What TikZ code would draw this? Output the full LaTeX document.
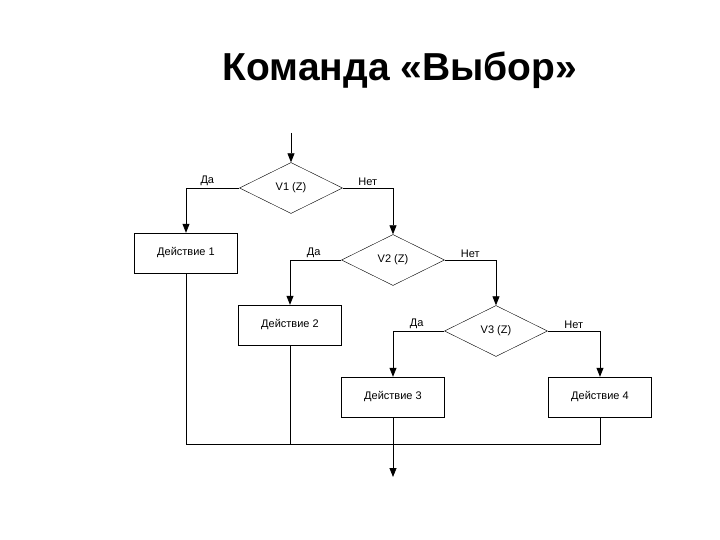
\documentclass[tikz,border=0pt]{standalone}
\usepackage{fontspec}
\setmainfont{Liberation Sans}
\usetikzlibrary{shapes.geometric,arrows.meta}

\begin{document}
\begin{tikzpicture}[x=1pt, y=-1pt,
    decision/.style={draw, diamond, aspect=2, inner sep=0pt, minimum width=103pt, minimum height=51pt, font=\fontsize{11}{13}\selectfont},
    action/.style={draw, rectangle, minimum width=103pt, minimum height=40pt, font=\fontsize{11}{13}\selectfont},
    answer/.style={above, inner sep=1.5pt, font=\fontsize{11}{13}\selectfont},
    flow/.style={-{Triangle[length=9pt,width=7pt]}, line width=0.8pt},
    link/.style={line width=0.8pt}]
    \useasboundingbox (0,0) rectangle (720,540);

    % Title
    \node[font=\fontsize{39}{44}\selectfont\bfseries] (title) at (400,70) {Команда «Выбор»};

    % Decisions and actions
    \node[decision] (v1) at (291,188) {V1 (Z)};
    \node[action] (act1) at (186,253) {Действие 1};
    \node[decision] (v2) at (393,260) {V2 (Z)};
    \node[action] (act2) at (290,325) {Действие 2};
    \node[decision] (v3) at (496,331) {V3 (Z)};
    \node[action] (act3) at (393,397) {Действие 3};
    \node[action] (act4) at (600,397) {Действие 4};

    \coordinate (in) at (291,133);
    \coordinate (join) at (393,444);
    \coordinate (out) at (393,477);

    % Branches
    \draw[flow] (in) -- (v1.north);
    \draw[flow] (v1.west) -| node[answer, pos=0.3] {Да} (act1.north);
    \draw[flow] (v1.east) -| node[answer, pos=0.25] {Нет} (v2.north);
    \draw[flow] (v2.west) -| node[answer, pos=0.27] {Да} (act2.north);
    \draw[flow] (v2.east) -| node[answer, pos=0.25] {Нет} (v3.north);
    \draw[flow] (v3.west) -| node[answer, pos=0.27] {Да} (act3.north);
    \draw[flow] (v3.east) -| node[answer, pos=0.25] {Нет} (act4.north);

    % Merge below the actions
    \draw[link] (act1.south) |- (join);
    \draw[link] (act4.south) |- (join);
    \draw[link] (act2.south) -- (act2.south |- join);
    \draw[flow] (act3.south) -- (out);
\end{tikzpicture}
\end{document}
